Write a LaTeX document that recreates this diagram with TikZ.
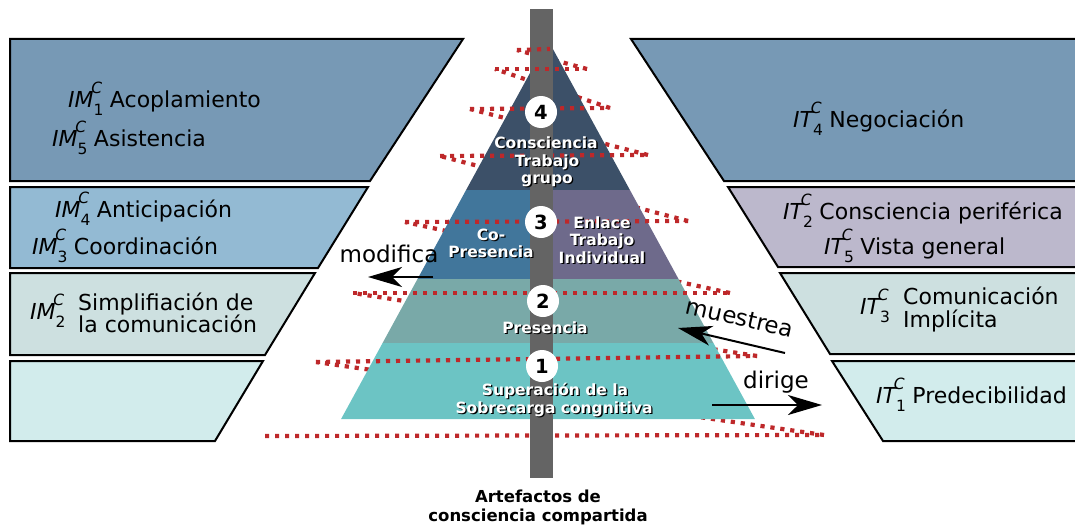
\documentclass[tikz,border=0pt]{standalone}
\usepackage{fontspec}
\setmainfont{DejaVu Sans}
\usetikzlibrary{arrows.meta}

\definecolor{boxA}{RGB}{119,153,181}
\definecolor{boxB}{RGB}{147,186,211}
\definecolor{boxBr}{RGB}{188,184,204}
\definecolor{boxC}{RGB}{205,224,224}
\definecolor{boxD}{RGB}{210,236,236}
\definecolor{pyrTop}{RGB}{60,80,104}
\definecolor{pyrCo}{RGB}{65,118,155}
\definecolor{pyrEn}{RGB}{110,106,139}
\definecolor{pyrPre}{RGB}{121,169,168}
\definecolor{pyrSup}{RGB}{108,196,196}
\definecolor{barGray}{RGB}{100,100,100}
\definecolor{spiralred}{RGB}{190,40,42}

% small script size for indices
\newcommand\scr{\fontsize{15.5}{15.5}\selectfont}
% symbol with lower index and upper C
\newcommand\sym[2]{{\itshape #1}\rlap{\raisebox{-0.4em}{\scr #2}}\kern-0.1em\raisebox{0.62em}{\scr\itshape C}\kern0.35em}
% white text with a dark drop shadow
\newcommand\shd[1]{\makebox[0pt][l]{\kern1.3pt\raisebox{-1.3pt}{\color{black}#1}}#1}

\begin{document}
\begin{tikzpicture}[x=1pt,y=-1pt,
  boxframe/.style={draw=black, line width=2pt, line join=miter},
  helix/.style={draw=spiralred, line width=4.2pt, dash pattern=on 4.2pt off 5.8pt},
  ptext/.style={text=white, font=\fontsize{15.5}{17.5}\selectfont\bfseries, inner sep=0pt, anchor=base},
  btxt/.style={font=\fontsize{22}{22}\selectfont, inner sep=0pt, anchor=base west},
  num/.style={circle, fill=white, minimum size=32pt, inner sep=0pt, font=\fontsize{19.5}{19.5}\selectfont\bfseries},
  arr/.style={line width=2pt, -{Stealth[length=34pt,width=20pt,inset=10pt]}},
  atext/.style={font=\fontsize{23}{23}\selectfont, inner sep=0pt},
  foot/.style={font=\fontsize{16.5}{18}\selectfont\bfseries, inner sep=0pt, anchor=base}]

\useasboundingbox (0,0) rectangle (1075,527);

% ---- side panels, left column
\path[boxframe, fill=boxA] (10,39) -- (463,39) -- (370,181) -- (10,181) -- cycle;
\path[boxframe, fill=boxB] (10,187) -- (368,187) -- (318,268) -- (10,268) -- cycle;
\path[boxframe, fill=boxC] (10,273) -- (315,273) -- (265,355) -- (10,355) -- cycle;
\path[boxframe, fill=boxD] (10,361) -- (263,361) -- (215,441) -- (10,441) -- cycle;
% ---- side panels, right column
\path[boxframe, fill=boxA] (631,39) -- (1090,39) -- (1090,181) -- (724,181) -- cycle;
\path[boxframe, fill=boxBr] (728,187) -- (1090,187) -- (1090,267) -- (778,267) -- cycle;
\path[boxframe, fill=boxC] (780,273) -- (1090,273) -- (1090,354) -- (830,354) -- cycle;
\path[boxframe, fill=boxD] (832,361) -- (1090,361) -- (1090,441) -- (883,441) -- cycle;

% ---- turning points of the spiral
\coordinate (LA) at (265,436); \coordinate (RA) at (824,435);
\coordinate (LB) at (316,362); \coordinate (RB) at (757,356);
\coordinate (LC) at (353,293); \coordinate (RC) at (730,293);
\coordinate (LD) at (405,222); \coordinate (RD) at (688,221);
\coordinate (LE) at (440,156); \coordinate (RE) at (648,155);
\coordinate (LF) at (470,109); \coordinate (RF) at (610,108);
\coordinate (LG) at (495,69);  \coordinate (RG) at (587,69);
\coordinate (LH) at (517,50);  \coordinate (RH) at (550,49);

% rear half of each turn, behind the pyramid
\draw[helix] (RA) -- (LB);
\draw[helix] (RB) -- (LC);
\draw[helix] (RC) -- (LD);
\draw[helix] (RD) -- (LE);
\draw[helix] (RE) -- (LF);
\draw[helix] (RF) -- (LG);
\draw[helix] (RG) -- (LH);

% ---- pyramid levels
\fill[pyrTop] (548,40) -- (629.9,190) -- (466.1,190) -- cycle;
\fill[pyrCo]  (466.1,190) -- (541,190) -- (541,279) -- (417.5,279) -- cycle;
\fill[pyrEn]  (541,190) -- (629.9,190) -- (678.5,279) -- (541,279) -- cycle;
\fill[pyrPre] (417.5,279) -- (678.5,279) -- (713.4,343) -- (382.6,343) -- cycle;
\fill[pyrSup] (382.6,343) -- (713.4,343) -- (754.9,419) -- (341.1,419) -- cycle;

% front half of each turn
\draw[helix] (LA) -- (RA);
\draw[helix] (LB) -- (RB);
\draw[helix] (LC) -- (RC);
\draw[helix] (LD) -- (RD);
\draw[helix] (LE) -- (RE);
\draw[helix] (LF) -- (RF);

% central column
\fill[barGray] (530,9) rectangle (553,478);

\draw[helix] (LG) -- (RG);
\draw[helix] (LH) -- (RH);

% ---- level numbers
\node[num] (n4) at (541,112) {4};
\node[num] (n3) at (541,222) {3};
\node[num] (n2) at (543,301) {2};
\node[num] (n1) at (542,366) {1};

% ---- level captions
\node[ptext] (c4a) at (546,148) {\shd{Consciencia}};
\node[ptext] (c4b) at (547,166) {\shd{Trabajo}};
\node[ptext] (c4c) at (547,183) {\shd{grupo}};
\node[ptext] (c3a) at (491,240) {\shd{Co-}};
\node[ptext] (c3b) at (491,257) {\shd{Presencia}};
\node[ptext] (c3c) at (602,228) {\shd{Enlace}};
\node[ptext] (c3d) at (602,245) {\shd{Trabajo}};
\node[ptext] (c3e) at (602,263) {\shd{Individual}};
\node[ptext] (c2a) at (545,333) {\shd{Presencia}};
\node[ptext] (c1a) at (555,395) {\shd{Superación de la}};
\node[ptext] (c1b) at (554,413) {\shd{Sobrecarga congnitiva}};

% ---- panel texts, left
\node[btxt] (l1a) at (68,107) {\sym{IM}{1}Acoplamiento};
\node[btxt] (l1b) at (52,146) {\sym{IM}{5}Asistencia};
\node[btxt] (l2a) at (55,217) {\sym{IM}{4}Anticipación};
\node[btxt] (l2b) at (32,254) {\sym{IM}{3}Coordinación};
\node[btxt] (l3s) at (30,319) {\sym{IM}{2}};
\node[btxt] (l3a) at (78,310) {Simplifiación de};
\node[btxt] (l3b) at (78,332) {la comunicación};
% ---- panel texts, right
\node[btxt] (r1) at (793,127) {\sym{IT}{4}Negociación};
\node[btxt] (r2a) at (783,219) {\sym{IT}{2}Consciencia periférica};
\node[btxt] (r2b) at (824,254) {\sym{IT}{5}Vista general};
\node[btxt] (r3s) at (860,314) {\sym{IT}{3}};
\node[btxt] (r3a) at (903,304) {Comunicación};
\node[btxt] (r3b) at (903,327) {Implícita};
\node[btxt] (r4) at (876,403) {\sym{IT}{1}Predecibilidad};

% ---- relations
\coordinate (modS) at (433,277); \coordinate (modE) at (368,277);
\coordinate (mueS) at (785,353); \coordinate (mueE) at (678,328);
\coordinate (dirS) at (712,405); \coordinate (dirE) at (822,405);
\draw[arr] (modS) -- (modE);
\draw[arr] (mueS) -- (mueE);
\draw[arr] (dirS) -- (dirE);
\node[atext, anchor=base] (mod) at (389,262) {modifica};
\node[atext, rotate=-13] (mue) at (740,318) {muestrea};
\node[atext, anchor=base] (dir) at (776,388) {dirige};

% ---- caption of the column
\node[foot] (art1) at (538,502) {Artefactos de};
\node[foot] (art2) at (538,521) {consciencia compartida};
\end{tikzpicture}
\end{document}
